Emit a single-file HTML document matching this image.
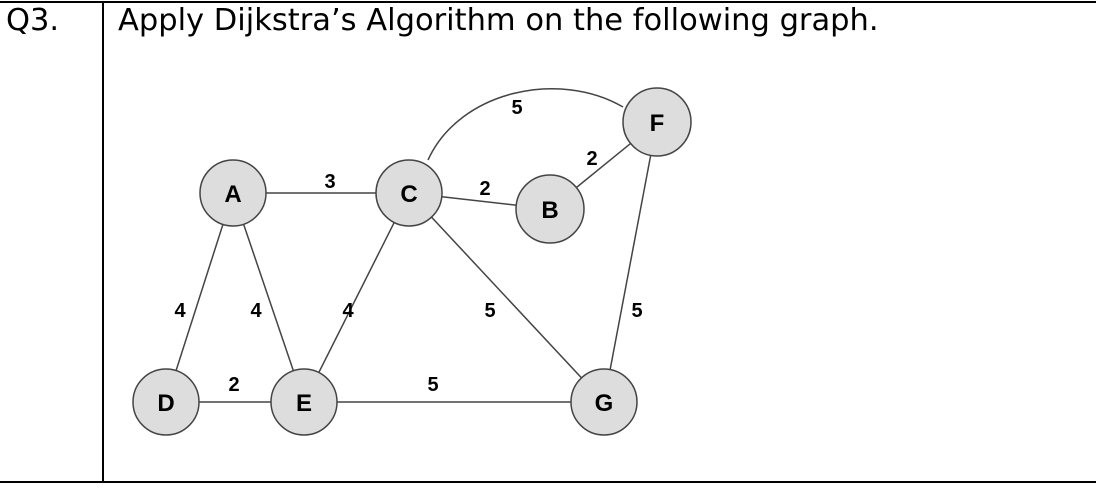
<!DOCTYPE html>
<html><head><style>
body{margin:0;width:1096px;height:490px;background:#fff;overflow:hidden;position:relative;font-family:"DejaVu Sans","Liberation Sans",sans-serif;}
.t{position:absolute;font-size:30.5px;color:#000;}
</style></head><body>
<div style="position:absolute;left:0;top:1px;width:1096px;height:2px;background:#000"></div>
<div style="position:absolute;left:0;top:481px;width:1096px;height:2px;background:#000"></div>
<div style="position:absolute;left:102px;top:1px;width:2px;height:482px;background:#000"></div>
<div class="t" style="left:6px;top:3px">Q3.</div>
<div class="t" style="left:118px;top:3px">Apply Dijkstra’s Algorithm on the following graph.</div>
<svg width="1096" height="490" style="position:absolute;left:0;top:0" font-family="Liberation Sans, sans-serif" font-weight="bold">
<g stroke="#444" stroke-width="1.5" fill="none">
<path d="M428 160 C 460 90, 560 70, 623 107"/>
<line x1="233" y1="193" x2="409" y2="193"/>
<line x1="409" y1="193" x2="550" y2="209"/>
<line x1="550" y1="209" x2="657" y2="122"/>
<line x1="233" y1="193" x2="166" y2="402"/>
<line x1="233" y1="193" x2="304" y2="402"/>
<line x1="409" y1="193" x2="304" y2="402"/>
<line x1="409" y1="193" x2="604" y2="402"/>
<line x1="657" y1="122" x2="604" y2="402"/>
<line x1="166" y1="402" x2="604" y2="402"/>
</g>
<g fill="#ddd" stroke="#444" stroke-width="1.5">
<circle cx="233" cy="193" r="33"/><circle cx="409" cy="193" r="33"/>
<circle cx="550" cy="209" r="34"/><circle cx="657" cy="122" r="34"/>
<circle cx="166" cy="402" r="33"/><circle cx="304" cy="402" r="33"/>
<circle cx="604" cy="402" r="33"/>
</g>
<g font-size="24" text-anchor="middle" fill="#000">
<text x="233" y="202">A</text><text x="409" y="202">C</text><text x="550" y="218">B</text>
<text x="657" y="131">F</text><text x="166" y="411">D</text><text x="304" y="411">E</text><text x="604" y="411">G</text>
</g>
<g font-size="20" text-anchor="middle" fill="#000">
<text x="517" y="114">5</text><text x="330" y="188">3</text><text x="485" y="195">2</text>
<text x="592" y="165">2</text><text x="180" y="317">4</text><text x="256" y="317">4</text>
<text x="348" y="317">4</text><text x="490" y="317">5</text><text x="637" y="317">5</text>
<text x="234" y="391">2</text><text x="433" y="391">5</text>
</g>
</svg>
</body></html>
